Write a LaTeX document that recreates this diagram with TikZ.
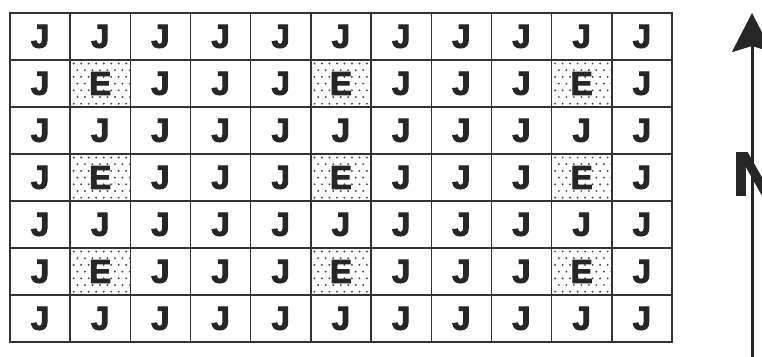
\documentclass[tikz,border=0pt]{standalone}
\usepackage{fontspec}
\setmainfont{Liberation Sans}
\newfontfamily\heavyfont[FakeBold=3]{Liberation Sans Bold}
\usetikzlibrary{arrows.meta}
\begin{document}
\begin{tikzpicture}[x=1pt,y=-1pt,
  cellletter/.style={font=\heavyfont\fontsize{33}{33}\selectfont, text=black!85, inner sep=0pt},
  gridline/.style={line width=1.4pt, draw=black!80},
  stipple/.style={fill=black!70},
  northarrow/.style={line width=3pt, draw=black!85, -{Stealth[length=39pt, width=40pt, inset=6pt]}},
  northletter/.style={font=\heavyfont\fontsize{61}{61}\selectfont, text=black!85, inner sep=0pt}]
\useasboundingbox (0,0) rectangle (762,356);
\def\cw{60.18}
\def\rh{47}
% stippled cells
\foreach \r in {1,3,5}{
  \foreach \c in {1,5,9}{
    \foreach \i in {0,...,7}{
      \foreach \j in {0,...,6}{
        \pgfmathsetmacro{\px}{10+\c*\cw+3.5+\i*7.5+mod(\j,2)*3.75}
        \pgfmathsetmacro{\py}{13+\r*\rh+3.5+\j*6.7}
        \fill[stipple] (\px,\py) circle (1.1pt);
      }
    }
  }
}
% grid
\draw[gridline] (10,13) rectangle (10+11*\cw,13+7*\rh);
\foreach \c in {1,...,10}{
  \draw[gridline] (10+\c*\cw,13) -- (10+\c*\cw,13+7*\rh);
}
\foreach \r in {1,...,6}{
  \draw[gridline] (10,13+\r*\rh) -- (10+11*\cw,13+\r*\rh);
}
% letters
\foreach \r in {0,...,6}{
  \foreach \c in {0,...,10}{
    \pgfmathsetmacro{\cx}{10+\c*\cw+\cw/2}
    \pgfmathsetmacro{\cy}{13+\r*\rh+\rh/2}
    \pgfmathtruncatemacro{\isE}{(mod(\r,2)==1)&&(\c==1||\c==5||\c==9)}
    \ifnum\isE=1
      \node[cellletter] (cell-\r-\c) at (\cx,\cy) {E};
    \else
      \node[cellletter] (cell-\r-\c) at (\cx,\cy) {J};
    \fi
  }
}
% north arrow
\node[northletter] (nlabel) at (755,174) {N};
\coordinate (arrowfoot) at (752,358);
\coordinate (arrowtip) at (752,13);
\draw[northarrow] (arrowfoot) -- (arrowtip);
\end{tikzpicture}
\end{document}
